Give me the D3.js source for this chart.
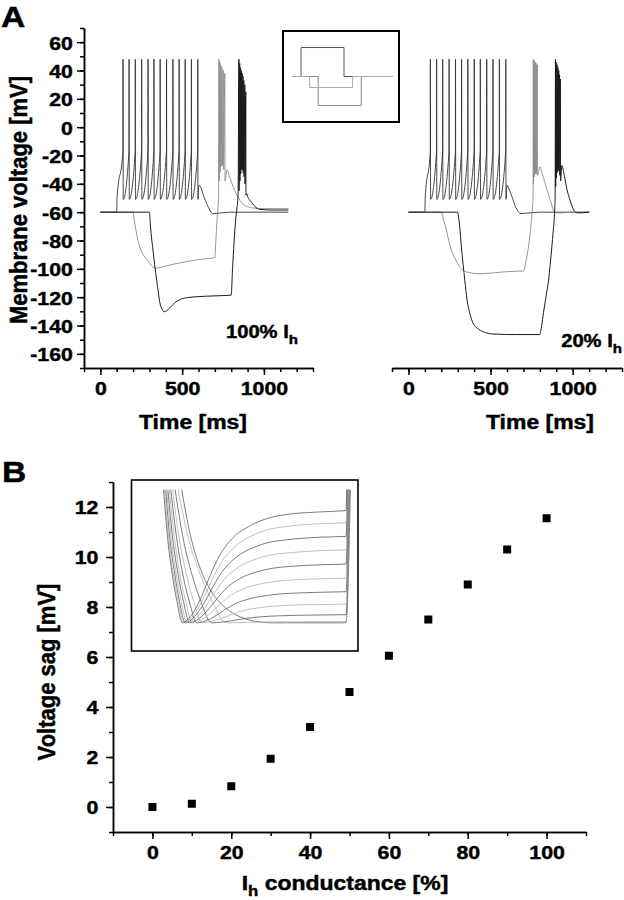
<!DOCTYPE html>
<html><head><meta charset="utf-8">
<script src="https://cdn.jsdelivr.net/npm/d3@7/dist/d3.min.js"></script>
<style>
html,body{margin:0;padding:0;background:#fff;}
svg text{font-family:"Liberation Sans",Arial,Helvetica,sans-serif;font-weight:bold;fill:#000;stroke:#000;stroke-width:0.45px;}
</style></head><body>
<svg id="chart" width="624" height="900"></svg>
<script>
// ---------------- DATA ----------------
// Panel A axes
const voltTicks = [60, 40, 20, 0, -20, -40, -60, -80, -100, -120, -140, -160];
const timeTicks = [0, 500, 1000];
// Spike parameters (mV)
const SPIKE_PEAK = 48, SPIKE_TROUGH = -51, SPIKE_THRESH = -17;
// 100% Ih : depolarising step -> regular spike train
const spikeTimes100 = [138, 175, 213, 252, 291, 327, 365, 404, 443, 481, 518, 556, 595];
const depPre100 = [[0,-60],[100,-60],[102,-50]];
const depPost100 = [[602,-41],[612,-42],[627,-47],[658,-56],[688,-61],[740,-60.5],[800,-60],[1150,-60]];
// 100% Ih : small hyperpolarising step (grey)
const hyp1Pre100 = [[0,-60],[200,-60],[208,-66],[218,-73],[230,-80],[245,-86],[265,-90.5],[285,-93.5],[310,-97.5],[334,-99.5],[360,-99.2],[400,-98],[500,-95.5],[600,-93.5],[700,-92],[706,-80],[712,-68],[718,-58],[723,-48]];
const hyp1BurstT100 = [725, 731, 737, 744, 752, 761];
const hyp1BurstPk100 = [48, 46, 44, 42, 40, 38];
const hyp1BurstTr100 = [-38, -32, -28, -27, -30, -38];
const hyp1Post100 = [[774,-30],[790,-35],[815,-43],[845,-50],[880,-55],[930,-57],[1000,-57.5],[1150,-57.5]];
// 100% Ih : large hyperpolarising step (black)
const hyp2Pre100 = [[0,-60],[300,-60],[305,-68],[312,-77],[320,-85],[332,-97],[344,-108],[355,-117],[364,-124],[377,-128.5],[390,-130.3],[405,-129.6],[425,-127.5],[455,-124],[490,-121.5],[540,-120.2],[650,-119.3],[800,-118.6],[808,-100],[817,-82],[826,-67],[835,-57],[842,-48]];
const hyp2BurstT100 = [847, 852, 857, 862, 867, 872, 877, 883, 889];
const hyp2BurstPk100 = [48, 45, 42, 40, 38, 36, 33, 30, 25];
const hyp2BurstTr100 = [-45, -38, -33, -30, -30, -32, -35, -40, -48];
const hyp2Post100 = [[895,-47],[900,-49],[910,-51],[925,-53],[945,-56],[975,-58],[1050,-58.5],[1150,-58.5]];
// 20% Ih
const spikeTimes20 = [133, 171, 208, 247, 286, 323, 361, 400, 437, 476, 514, 553, 592];
const depPre20 = [[0,-60],[100,-60],[102,-50]];
const depPost20 = [[600,-41],[610,-43],[627,-48],[655,-57],[685,-61],[740,-60.5],[800,-60],[1100,-60]];
const hyp1Pre20 = [[0,-60],[200,-60],[215,-66],[231,-72.6],[245,-80],[261,-86.7],[285,-93],[312,-98.5],[340,-101.5],[373,-102.7],[420,-103.5],[500,-103],[600,-102],[700,-101.5],[715,-95],[730,-85],[742,-74],[750,-64],[756,-55],[759,-48]];
const hyp1BurstT20 = [760, 766, 772, 778, 785];
const hyp1BurstPk20 = [48, 47, 46, 45, 44];
const hyp1BurstTr20 = [-40, -35, -33, -33, -34];
const hyp1Post20 = [[800,-28],[815,-33],[843,-44],[865,-52],[882,-58.5],[900,-60.5],[940,-60.5],[1000,-60],[1100,-60]];
const hyp2Pre20 = [[0,-60],[300,-60],[303,-62],[312,-70],[322,-84],[333,-97],[343,-108],[357,-122],[375,-132],[394,-138.5],[420,-142],[455,-144.4],[516,-146],[650,-146.4],[800,-146.4],[811,-140],[822,-131],[837,-120],[853,-108],[863,-97],[873,-84.4],[881,-74],[887,-65.6],[891,-56],[893,-50]];
const hyp2BurstT20 = [895, 900, 905, 910, 915, 920, 925];
const hyp2BurstPk20 = [48, 46, 44, 42, 40, 37, 34];
const hyp2BurstTr20 = [-42, -36, -32, -30, -31, -34, -38];
const hyp2Post20 = [[934,-27],[950,-35],[965,-44],[985,-52],[1006,-58.5],[1030,-60.5],[1060,-60.4],[1100,-60]];
// Stimulus inset (current steps, relative units)
const stimDep  = [[0,0],[100,0],[100,1],[600,1],[600,0],[1170,0]];
const stimHyp1 = [[0,0],[200,0],[200,-0.38],[700,-0.38],[700,0],[1170,0]];
const stimHyp2 = [[0,0],[300,0],[300,-1],[800,-1],[800,0],[1170,0]];

// Panel B
const sagTicks = [0, 2, 4, 6, 8, 10, 12];
const condTicks = [0, 20, 40, 60, 80, 100];
const conductance = [0, 10, 20, 30, 40, 50, 60, 70, 80, 90, 100];
const voltageSag = [0, 0.13, 0.83, 1.93, 3.2, 4.6, 6.05, 7.5, 8.9, 10.3, 11.55];
// Inset B: normalised hyperpolarisation traces, 0% .. 100% Ih  ([ms, mV above minimum])
const sagTraces = [
 [[348,13.7],[372,9],[400,5.5],[430,3.2],[470,1.5],[510,0.6],[560,0.1],[600,0],[800,0],[812,13.7]],
 [[338,13.7],[368,8.5],[399,5],[432,2.2],[470,0],[540,0.05],[620,0.1],[700,0.12],[800,0.13],[811,13.7]],
 [[330,13.7],[353,8.5],[376,5],[401,2.2],[430,0],[455,0.06],[479,0.17],[500,0.31],[526,0.46],[570,0.63],[617,0.72],[660,0.77],[707,0.8],[800,0.83],[810,13.7]],
 [[323,13.7],[342,8.5],[361,5],[381,2.2],[405,0],[430,0.14],[454,0.41],[475,0.71],[501,1.08],[545,1.47],[592,1.68],[635,1.8],[682,1.85],[775,1.91],[800,1.93],[809,13.7]],
 [[318,13.7],[335,8.5],[351,5],[369,2.2],[390,0],[415,0.22],[439,0.67],[460,1.18],[486,1.79],[530,2.43],[577,2.78],[620,2.98],[667,3.07],[760,3.17],[800,3.2],[808,13.7]],
 [[314,13.7],[329,8.5],[343,5],[359,2.2],[378,0],[403,0.32],[427,0.97],[448,1.7],[474,2.58],[518,3.5],[565,4.0],[608,4.28],[655,4.42],[748,4.55],[800,4.6],[807,13.7]],
 [[310,13.7],[324,8.5],[338,5],[353,2.2],[370,0],[395,0.42],[419,1.27],[440,2.24],[466,3.39],[510,4.6],[557,5.26],[600,5.63],[647,5.81],[740,5.99],[800,6.05],[806,13.7]],
 [[307,13.7],[320,8.5],[333,5],[347,2.2],[363,0],[388,0.53],[412,1.58],[433,2.78],[459,4.2],[503,5.7],[550,6.53],[593,6.98],[640,7.2],[733,7.43],[800,7.5],[805,13.7]],
 [[304,13.7],[316,8.5],[329,5],[342,2.2],[358,0],[383,0.62],[407,1.87],[428,3.29],[454,4.98],[498,6.76],[545,7.74],[588,8.28],[635,8.54],[728,8.81],[800,8.9],[804,13.7]],
 [[301,13.7],[313,8.5],[325,5],[339,2.2],[354,0],[379,0.72],[403,2.16],[424,3.81],[450,5.77],[494,7.83],[541,8.96],[584,9.58],[631,9.89],[724,10.2],[800,10.3],[803,13.7]],
 [[298,13.7],[310,8.5],[322,5],[335,2.2],[350,0],[375,0.8],[399,2.4],[420,4.3],[446,6.5],[490,8.8],[537,10.0],[580,10.7],[627,11.1],[720,11.4],[800,11.55],[802,13.7]]
];

// ---------------- HELPERS ----------------
const SX = 1.12; // horizontal stretch of the lettering in the original
const svg = d3.select("#chart");
const plainFmt = d => String(d); // ASCII hyphen, no thousands separator

function train(pre, times, post) {
  const pts = pre.slice();
  times.forEach(t => { pts.push([t, SPIKE_THRESH], [t + 0.6, SPIKE_PEAK], [t + 1.8, SPIKE_TROUGH]); });
  return pts.concat(post);
}
function burst(pre, times, peaks, troughs, post) {
  const pts = pre.slice();
  times.forEach((t, i) => { pts.push([t, peaks[i]], [t + 1.2, troughs[i]]); });
  return pts.concat(post);
}
function addText(x, y, size, anchor, rot) {
  return svg.append("text")
    .attr("transform", `translate(${x},${y}) scale(${SX},1)` + (rot ? ` rotate(${rot})` : ""))
    .attr("text-anchor", anchor).attr("font-size", size);
}
function styleAxis(g, fs) {
  g.attr("font-size", fs).attr("font-family", null);
  g.select(".domain").attr("stroke", "#000").attr("stroke-width", 1.5);
  g.selectAll(".tick line").attr("stroke", "#000").attr("stroke-width", 1.5);
  g.selectAll(".tick text").attr("fill", "#000");
}
function yAxisPair(scale, x, major, minor, pad) {
  const gm = svg.append("g").attr("transform", `translate(${x},0)`)
    .call(d3.axisLeft(scale).tickValues(minor).tickSize(4).tickSizeOuter(0).tickFormat(""));
  styleAxis(gm, 19);
  const g = svg.append("g").attr("transform", `translate(${x},0)`)
    .call(d3.axisLeft(scale).tickValues(major).tickSize(7).tickSizeOuter(0).tickPadding(pad).tickFormat(plainFmt));
  styleAxis(g, 19);
  g.selectAll(".tick text").attr("transform", `scale(${SX},1)`).attr("dy", "0.36em");
}
function xAxisPair(scale, y, major, minor) {
  const gm = svg.append("g").attr("transform", `translate(0,${y})`)
    .call(d3.axisBottom(scale).tickValues(minor).tickSize(4).tickSizeOuter(0).tickFormat(""));
  styleAxis(gm, 19);
  const g = svg.append("g").attr("transform", `translate(0,${y})`)
    .call(d3.axisBottom(scale).tickValues(major).tickSize(7).tickSizeOuter(0).tickPadding(7).tickFormat(plainFmt));
  styleAxis(g, 19);
  g.selectAll(".tick text").attr("transform", `scale(${SX},1)`);
}

// ---------------- PANEL A ----------------
const yA = d3.scaleLinear([-170, 70], [368, 28]);
const xAL = d3.scaleLinear([-100, 1300], [84, 313]);
const xAR = d3.scaleLinear([-100, 1300], [392, 622]);

yAxisPair(yA, 84, voltTicks, d3.range(-170, 71, 10), 3);
xAxisPair(xAL, 368, timeTicks, d3.range(-100, 1301, 100));
xAxisPair(xAR, 368, timeTicks, d3.range(-100, 1301, 100));

function drawTraces(xs, set) {
  const line = d3.line().x(d => xs(d[0])).y(d => yA(d[1])).curve(d3.curveMonotoneX);
  set.forEach(s => {
    svg.append("path").attr("d", line(s.pts)).attr("fill", "none")
      .attr("stroke", s.color).attr("stroke-width", s.w).attr("stroke-linejoin", "round");
  });
}
drawTraces(xAL, [
  {pts: train(depPre100, spikeTimes100, depPost100), color: "#333", w: 0.9},
  {pts: burst(hyp1Pre100, hyp1BurstT100, hyp1BurstPk100, hyp1BurstTr100, hyp1Post100), color: "#8a8a8a", w: 0.9},
  {pts: burst(hyp2Pre100, hyp2BurstT100, hyp2BurstPk100, hyp2BurstTr100, hyp2Post100), color: "#1a1a1a", w: 1}
]);
drawTraces(xAR, [
  {pts: train(depPre20, spikeTimes20, depPost20), color: "#333", w: 0.9},
  {pts: burst(hyp1Pre20, hyp1BurstT20, hyp1BurstPk20, hyp1BurstTr20, hyp1Post20), color: "#8a8a8a", w: 0.9},
  {pts: burst(hyp2Pre20, hyp2BurstT20, hyp2BurstPk20, hyp2BurstTr20, hyp2Post20), color: "#1a1a1a", w: 1}
]);

// stimulus inset
svg.append("rect").attr("x", 283).attr("y", 31).attr("width", 116).attr("height", 91)
  .attr("fill", "#fff").attr("stroke", "#000").attr("stroke-width", 2);
const sxI = d3.scaleLinear([-110, 1240], [283, 399]);
const syI = d3.scaleLinear([-1.57, 1.57], [122, 31]);
const stimLine = d3.line().x(d => sxI(d[0])).y(d => syI(d[1]));
[[stimDep, "#555"], [stimHyp2, "#888"], [stimHyp1, "#aaa"]].forEach(([d, c]) => {
  svg.append("path").attr("d", stimLine(d)).attr("fill", "none").attr("stroke", c).attr("stroke-width", 1);
});

// labels panel A
addText(1, 27, 30, "start").text("A");
addText(27, 200, 22, "middle", -90).text("Membrane voltage [mV]");
addText(193, 429, 20.5, "middle").text("Time [ms]");
addText(540, 429, 20.5, "middle").text("Time [ms]");
const l1 = addText(298, 338, 18, "end");
l1.append("tspan").text("100% I");
l1.append("tspan").attr("font-size", 13.5).attr("dy", 6).text("h");
const l2 = addText(622, 347, 18, "end");
l2.append("tspan").text("20% I");
l2.append("tspan").attr("font-size", 13.5).attr("dy", 6).text("h");

// ---------------- PANEL B ----------------
const yB = d3.scaleLinear([-1, 13], [832, 482]);
const xB = d3.scaleLinear([-10, 110], [113, 586]);
yAxisPair(yB, 113, sagTicks, d3.range(-1, 14, 1), 6);
xAxisPair(xB, 832, condTicks, d3.range(-10, 111, 10));

svg.append("g").selectAll("rect.pt").data(conductance).join("rect")
  .attr("x", (d) => xB(d) - 4).attr("y", (d, i) => yB(voltageSag[i]) - 4)
  .attr("width", 8).attr("height", 8).attr("fill", "#000");

// inset B
svg.append("rect").attr("x", 131.5).attr("y", 480).attr("width", 226.5).attr("height", 171)
  .attr("fill", "#fff").attr("stroke", "#000").attr("stroke-width", 1.6);
const ixB = d3.scaleLinear([210, 833], [131.5, 358]);
const iyB = d3.scaleLinear([-2.9, 14.7], [651, 480]);
const sagLine = d3.line().x(d => ixB(d[0])).y(d => iyB(d[1])).curve(d3.curveMonotoneX);
sagTraces.forEach((tr, k) => {
  svg.append("path").attr("d", sagLine(tr)).attr("fill", "none")
    .attr("stroke", k % 2 === 0 ? "#5a5a5a" : "#b0b0b0").attr("stroke-width", 0.8);
});

addText(2, 482, 30, "start").text("B");
addText(55, 672, 22, "middle", -90).text("Voltage sag [mV]");
const xl = addText(345, 890, 20.5, "middle");
xl.append("tspan").text("I");
xl.append("tspan").attr("font-size", 15).attr("dy", 6).text("h");
xl.append("tspan").attr("dy", -6).text(" conductance [%]");
</script></body></html>
